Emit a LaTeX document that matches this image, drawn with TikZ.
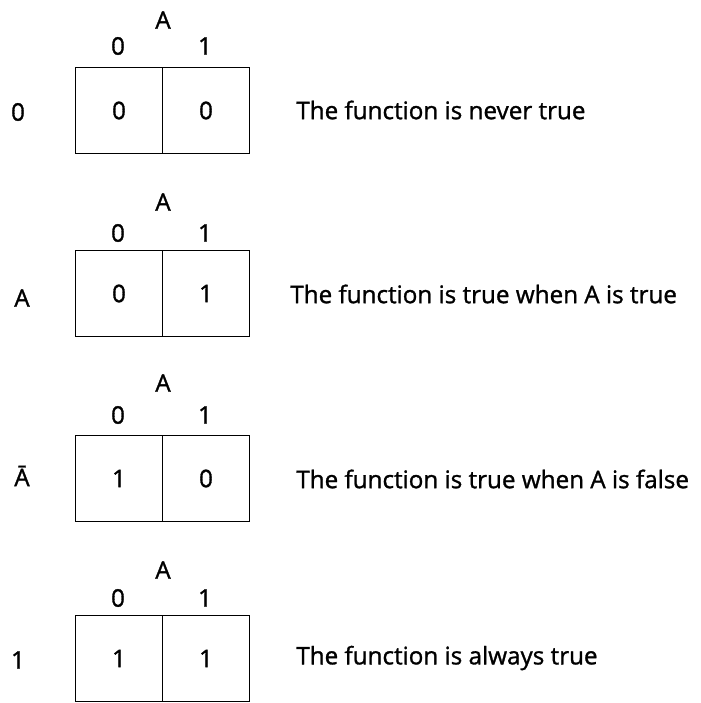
\documentclass[tikz,border=0pt]{standalone}
\usepackage{fontspec}
\setmainfont{Open Sans}[FakeBold=1.2]
\begin{document}
\begin{tikzpicture}[x=0.02cm,y=-0.02cm,
  every node/.style={font=\fontsize{13.8}{16}\selectfont, inner sep=0pt},
  cell/.style={draw, line width=1.1pt, minimum width=1.74cm, minimum height=1.72cm},
  desc/.style={anchor=west}]
\useasboundingbox (0,0) rectangle (700,703);
% map 1: 0
\node (h1) at (163,20) {A};
\node (c10) at (118,46) {0};
\node (c11) at (205,46) {1};
\node (r1) at (18,112) {0};
\node[cell] (m1a) at (119,110.5) {0};
\node[cell] (m1b) at (206,110.5) {0};
\node[desc] (t1) at (296,110) {The function is never true};
% map 2: A
\node (h2) at (163,202) {A};
\node (c20) at (118,233) {0};
\node (c21) at (205,233) {1};
\node (r2) at (22,298) {A};
\node[cell] (m2a) at (119,293.5) {0};
\node[cell] (m2b) at (206,293.5) {1};
\node[desc] (t2) at (290,294) {The function is true when A is true};
% map 3: not A
\node (h3) at (163,383) {A};
\node (c30) at (118,415) {0};
\node (c31) at (205,415) {1};
\node (r3) at (22,476) {Ā};
\node[cell] (m3a) at (119,478.5) {1};
\node[cell] (m3b) at (206,478.5) {0};
\node[desc] (t3) at (296,479) {The function is true when A is false};
% map 4: 1
\node (h4) at (163,570) {A};
\node (c40) at (118,598) {0};
\node (c41) at (205,598) {1};
\node (r4) at (18,660) {1};
\node[cell] (m4a) at (119,658.5) {1};
\node[cell] (m4b) at (206,658.5) {1};
\node[desc] (t4) at (296,658) {The function is always true};
\end{tikzpicture}
\end{document}
